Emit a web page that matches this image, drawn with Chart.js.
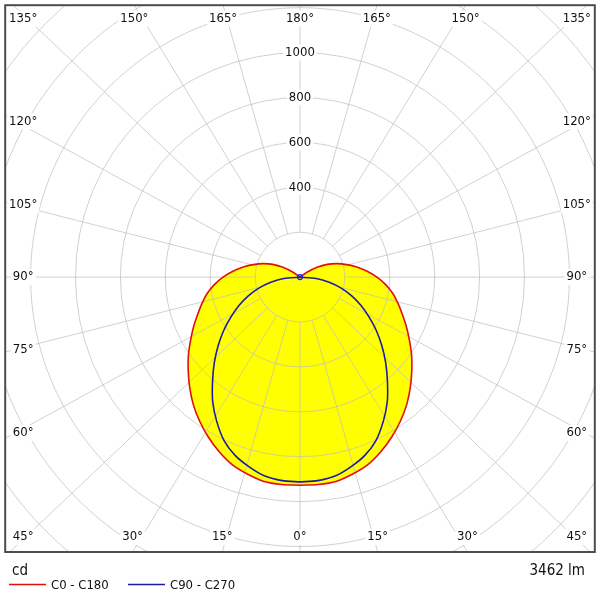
<!DOCTYPE html>
<html>
<head>
<meta charset="utf-8">
<script src="https://cdn.jsdelivr.net/npm/chart.js@4.4.1/dist/chart.umd.min.js"></script>
<style>
  html, body { margin: 0; padding: 0; background: #fff; }
  #wrap { position: relative; width: 600px; height: 600px; }
</style>
</head>
<body>
<div id="wrap"><canvas id="ldc"></canvas></div>
<script>
// gamma angles in degrees, 0 = straight down
const GAMMA = [0, 5, 10, 15, 20, 25, 30, 35, 40, 45, 50, 55, 60, 65, 70, 75, 80, 85, 90,
               95, 100, 105, 110, 115, 120, 125, 130, 135, 140, 145, 150, 155, 160, 165, 170, 175, 180];

// intensities (cd)
const I_C0   = [927, 927, 924, 908, 888, 856, 820, 781, 740, 695, 650, 607, 563, 523, 485, 452, 420, 383, 343,
                300, 257, 215, 175, 134, 88, 38, 0, 0, 0, 0, 0, 0, 0, 0, 0, 0, 0];
const I_C180 = [927, 927, 924, 908, 888, 856, 820, 781, 740, 695, 650, 607, 563, 523, 485, 452, 420, 383, 343,
                300, 257, 215, 175, 134, 88, 38, 0, 0, 0, 0, 0, 0, 0, 0, 0, 0, 0];
const I_C90  = [912, 910, 900, 875, 845, 802, 742, 678, 606, 540, 476, 415, 355, 300, 245, 190, 132, 72, 0,
                0, 0, 0, 0, 0, 0, 0, 0, 0, 0, 0, 0, 0, 0, 0, 0, 0, 0];
const I_C270 = [912, 910, 900, 875, 845, 802, 742, 678, 606, 540, 476, 415, 355, 300, 245, 190, 132, 72, 0,
                0, 0, 0, 0, 0, 0, 0, 0, 0, 0, 0, 0, 0, 0, 0, 0, 0, 0];

const RINGS = [200, 400, 600, 800, 1000, 1200, 1400, 1600, 1800, 2000];
const RING_LABELS = [400, 600, 800, 1000];
const ANGLE_LABELS = [0, 15, 30, 45, 60, 75, 90, 105, 120, 135, 150, 165, 180];
const SERIES_NAMES = ['C0 - C180', 'C90 - C270'];
const UNIT_TEXT = 'cd';
const FLUX_TEXT = '3462 lm';

const FONT = '"DejaVu Sans Condensed", "Liberation Sans", sans-serif';
const GRID = 'rgba(190,190,190,0.7)';
const RED = '#e01010';
const BLUE = '#1c1ca0';
const K_STRETCH = 1.055;   // spokes in the reference lean a little outwards

// left half goes 180 -> 0, right half 0 -> 180
function toPoints(left, right) {
  const pts = [];
  for (let i = GAMMA.length - 1; i >= 0; i--) {
    const g = GAMMA[i] * Math.PI / 180;
    pts.push({x: -left[i] * Math.sin(g), y: -left[i] * Math.cos(g)});
  }
  for (let i = 0; i < GAMMA.length; i++) {
    const g = GAMMA[i] * Math.PI / 180;
    pts.push({x: right[i] * Math.sin(g), y: -right[i] * Math.cos(g)});
  }
  return pts;
}

const redPts = toPoints(I_C180, I_C0);
const bluePts = toPoints(I_C270, I_C90);

// centre of the diagram at (299.5, 276.5), 0.225 px per cd
const PX_PER_CD = 0.225;
const AREA = {left: 4, top: 4, right: 595, bottom: 552};
const CX = 299.5, CY = 276.5;

function spokeDir(gamma, side) {
  const g = gamma * Math.PI / 180;
  const dx = side * K_STRETCH * Math.sin(g), dy = Math.cos(g);
  const n = Math.hypot(dx, dy);
  return [dx / n, dy / n];
}

function labelBox(ctx, text, x, y) {
  const w = ctx.measureText(text).width + 4;
  ctx.fillStyle = '#fff';
  ctx.fillRect(x - w / 2, y - 8, w, 16);
  ctx.fillStyle = '#111';
  ctx.fillText(text, x, y);
}

function drawGrid(chart) {
  const ctx = chart.ctx;
  const a = chart.chartArea;
  const xs = chart.scales.x, ys = chart.scales.y;
  const cx = xs.getPixelForValue(0), cy = ys.getPixelForValue(0);
  const rad = v => cy - ys.getPixelForValue(v);

  ctx.save();
  ctx.beginPath();
  ctx.rect(a.left, a.top, a.right - a.left, a.bottom - a.top);
  ctx.clip();
  ctx.strokeStyle = GRID;
  ctx.lineWidth = 1;

  RINGS.forEach(v => {
    ctx.beginPath();
    ctx.arc(cx, cy, rad(v), 0, Math.PI * 2);
    ctx.stroke();
  });

  const r0 = rad(RINGS[0]);
  for (let deg = 0; deg < 360; deg += 15) {
    const gamma = deg <= 180 ? deg : 360 - deg;
    const side = deg <= 180 ? 1 : -1;
    const [ux, uy] = spokeDir(gamma, side);
    ctx.beginPath();
    ctx.moveTo(cx + ux * r0, cy + uy * r0);
    ctx.lineTo(cx + ux * 1000, cy + uy * 1000);
    ctx.stroke();
  }

  ctx.font = '13px ' + FONT;
  ctx.textAlign = 'center';
  ctx.textBaseline = 'middle';

  RING_LABELS.forEach(v => labelBox(ctx, String(v), cx, cy - rad(v)));

  ANGLE_LABELS.forEach(gamma => {
    const sides = (gamma === 0 || gamma === 180) ? [1] : [1, -1];
    sides.forEach(side => {
      const [ux, uy] = spokeDir(gamma, side);
      const tx = Math.abs(ux) < 1e-9 ? Infinity : (ux > 0 ? a.right - cx : cx - a.left) / Math.abs(ux);
      const ty = Math.abs(uy) < 1e-9 ? Infinity : (uy > 0 ? a.bottom - cy : cy - a.top) / Math.abs(uy);
      let x, y;
      if (ty <= tx) {
        x = cx + ux * ty;
        y = uy > 0 ? a.bottom - 15 : a.top + 13.5;
      } else {
        x = ux > 0 ? a.right - 18 : a.left + 18;
        const t = (ux > 0 ? a.right - 10 - cx : cx - a.left - 10) / Math.abs(ux);
        y = cy + uy * t;
      }
      x = Math.min(Math.max(x, a.left + 18), a.right - 18);
      y = Math.min(Math.max(y, a.top + 13.5), a.bottom - 15);
      labelBox(ctx, gamma + '°', x, y);
    });
  });
  ctx.restore();
}

const polarGrid = {
  id: 'polarGrid',
  afterDatasetDraw(chart, args) {
    if (args.index === 0) drawGrid(chart);
  },
  afterDraw(chart) {
    const ctx = chart.ctx;
    const a = chart.chartArea;
    ctx.save();
    ctx.strokeStyle = '#4d4d4d';
    ctx.lineWidth = 2;
    ctx.strokeRect(a.left, a.top, a.right - a.left, a.bottom - a.top);

    ctx.fillStyle = '#111';
    ctx.font = '15px ' + FONT;
    ctx.textBaseline = 'alphabetic';
    ctx.textAlign = 'left';
    ctx.fillText(UNIT_TEXT, 12, 575);
    ctx.textAlign = 'right';
    ctx.fillText(FLUX_TEXT, 585, 575);

    // legend
    ctx.font = '13px ' + FONT;
    ctx.textAlign = 'left';
    ctx.textBaseline = 'middle';
    const items = [[RED, 9], [BLUE, 128]];
    items.forEach(([col, x0], i) => {
      ctx.strokeStyle = col;
      ctx.lineWidth = 1.5;
      ctx.beginPath();
      ctx.moveTo(x0, 584.5);
      ctx.lineTo(x0 + 37, 584.5);
      ctx.stroke();
      ctx.fillStyle = '#111';
      ctx.fillText(SERIES_NAMES[i], x0 + 42, 586);
    });
    ctx.restore();
  }
};

new Chart(document.getElementById('ldc'), {
  type: 'scatter',
  data: {
    datasets: [
      {
        label: 'fill',
        data: redPts,
        showLine: true,
        fill: 'shape',
        backgroundColor: '#ffff00',
        borderWidth: 0,
        borderColor: 'rgba(0,0,0,0)',
        pointRadius: 0,
        tension: 0.25,
        order: 3
      },
      {
        label: SERIES_NAMES[0],
        data: redPts,
        showLine: true,
        borderColor: RED,
        borderWidth: 1.6,
        borderJoinStyle: 'round',
        pointRadius: 0,
        tension: 0.25,
        order: 2
      },
      {
        label: SERIES_NAMES[1],
        data: bluePts,
        showLine: true,
        borderColor: BLUE,
        borderWidth: 1.6,
        borderJoinStyle: 'round',
        pointRadius: c => c.dataIndex === 0 ? 2.5 : 0,
        pointBorderColor: '#1c1cff',
        pointBackgroundColor: 'rgba(0,0,0,0)',
        pointBorderWidth: 1.2,
        tension: 0.25,
        order: 1
      }
    ]
  },
  options: {
    responsive: true,
    maintainAspectRatio: false,
    animation: false,
    layout: {padding: {left: AREA.left, top: AREA.top, right: 600 - AREA.right, bottom: 600 - AREA.bottom}},
    scales: {
      x: {
        type: 'linear', display: false,
        min: -(CX - AREA.left) / PX_PER_CD, max: (AREA.right - CX) / PX_PER_CD
      },
      y: {
        type: 'linear', display: false,
        min: -(AREA.bottom - CY) / PX_PER_CD, max: (CY - AREA.top) / PX_PER_CD
      }
    },
    plugins: {
      legend: {display: false},
      tooltip: {enabled: false}
    }
  },
  plugins: [polarGrid]
});
</script>
</body>
</html>
